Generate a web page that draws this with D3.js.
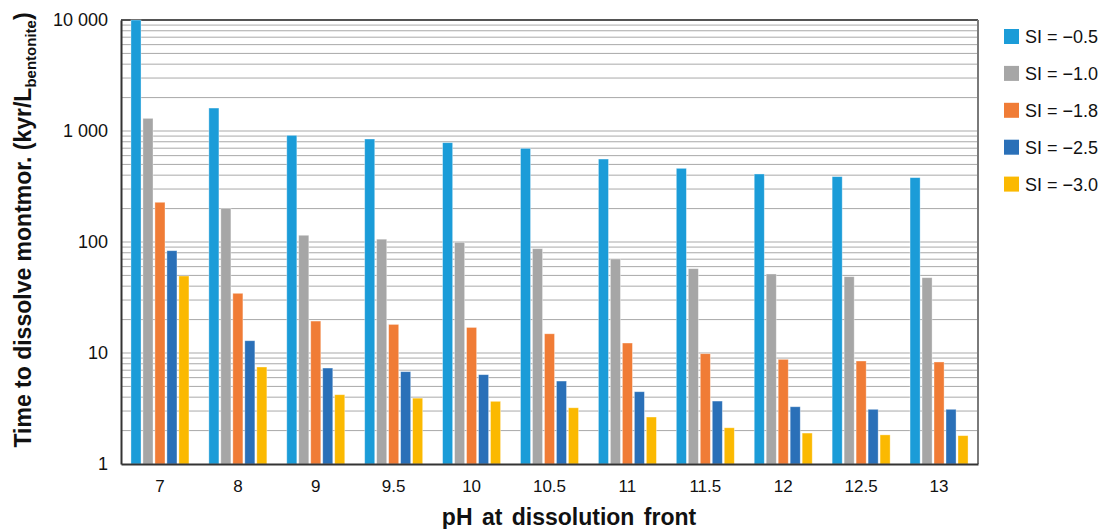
<!DOCTYPE html>
<html>
<head>
<meta charset="utf-8">
<script src="https://cdn.jsdelivr.net/npm/d3@7"></script>
<style>
  html, body { margin: 0; padding: 0; background: #fff; }
  svg { display: block; font-family: "Liberation Sans", Arial, Helvetica, sans-serif; }
</style>
</head>
<body>
<svg id="chart" width="1102" height="529"></svg>
<script>
// pH values at the dissolution front (x categories)
const categories = ["7", "8", "9", "9.5", "10", "10.5", "11", "11.5", "12", "12.5", "13"];

// Saturation index series
const seriesNames = ["SI = −0.5", "SI = −1.0", "SI = −1.8", "SI = −2.5", "SI = −3.0"];
const seriesColors = ["#1b9cd8", "#a6a6a6", "#f07c36", "#2a70b8", "#fbb901"];

// Time to dissolve montmorillonite (kyr per litre of bentonite), one array per series
const siMinus05 = [10000, 1610, 914, 847, 785, 698, 559, 461, 410, 388, 380];
const siMinus10 = [1300, 201, 115, 106, 99.4, 87.0, 70.3, 57.5, 51.5, 48.7, 47.7];
const siMinus18 = [228, 34.5, 19.4, 18.1, 17.0, 14.9, 12.3, 9.86, 8.77, 8.47, 8.30];
const siMinus25 = [83.5, 12.9, 7.32, 6.79, 6.38, 5.59, 4.48, 3.69, 3.28, 3.11, 3.11];
const siMinus30 = [49.4, 7.48, 4.21, 3.92, 3.67, 3.21, 2.65, 2.12, 1.90, 1.83, 1.80];
const seriesValues = [siMinus05, siMinus10, siMinus18, siMinus25, siMinus30];

// Y tick values and labels
const yTickValues = [1, 10, 100, 1000, 10000];
const yTickLabels = ["1", "10", "100", "1 000", "10 000"];

const svg = d3.select("#chart");
const plot = { left: 121, right: 978, top: 20, bottom: 464 };

const x = d3.scaleBand().domain(categories).range([plot.left, plot.right]).padding(0);
const bw = x.bandwidth();
const xs = d3.scaleBand().domain(seriesNames).range([bw / 2 - 29, bw / 2 + 29]).paddingInner(0.16);
const y = d3.scaleLog().domain([1, 10000]).range([plot.bottom, plot.top]);

// Minor and major horizontal gridlines (2..10 within each decade)
const gridValues = [];
for (let dec = 1; dec < 10000; dec *= 10) {
  for (let m = 2; m <= 10; m++) gridValues.push(dec * m);
}
svg.append("g").attr("class", "grid")
  .selectAll("line").data(gridValues.filter(v => v < 10000)).join("line")
  .attr("x1", plot.left).attr("x2", plot.right)
  .attr("y1", d => y(d)).attr("y2", d => y(d))
  .attr("stroke", "#a9a9a9").attr("stroke-width", 1);

// Frame: top and right borders
svg.append("line").attr("x1", plot.left).attr("x2", plot.right)
  .attr("y1", plot.top).attr("y2", plot.top).attr("stroke", "#1a1a1a").attr("stroke-width", 1.3);
svg.append("line").attr("x1", plot.right).attr("x2", plot.right)
  .attr("y1", plot.top).attr("y2", plot.bottom).attr("stroke", "#7a7a7a").attr("stroke-width", 2);

// Bars
const rows = [];
categories.forEach((c, i) => {
  seriesNames.forEach((s, j) => rows.push({ cat: c, series: s, value: seriesValues[j][i], color: seriesColors[j] }));
});
svg.append("g").attr("class", "bars")
  .selectAll("rect").data(rows).join("rect")
  .attr("x", d => x(d.cat) + xs(d.series))
  .attr("width", xs.bandwidth())
  .attr("y", d => y(d.value))
  .attr("height", d => plot.bottom - y(d.value))
  .attr("fill", d => d.color)
  .attr("stroke", "#ffffff").attr("stroke-opacity", 0.45).attr("stroke-width", 0.8);

// Y axis
const yAxis = d3.axisLeft(y).tickValues(yTickValues)
  .tickFormat((d, i) => yTickLabels[i]).tickSize(0).tickPadding(13);
const gy = svg.append("g").attr("transform", `translate(${plot.left},0)`).call(yAxis);
gy.select(".domain").attr("stroke", "#333").attr("stroke-width", 2);
gy.selectAll("text").attr("font-size", 18).attr("fill", "#111")
  .attr("font-family", "'Liberation Sans', Arial, sans-serif");

// X axis
const xAxis = d3.axisBottom(x).tickSize(0).tickPadding(16);
const gx = svg.append("g").attr("transform", `translate(0,${plot.bottom})`).call(xAxis);
gx.select(".domain").attr("stroke", "#333").attr("stroke-width", 2);
gx.selectAll("text").attr("font-size", 17).attr("fill", "#111")
  .attr("font-family", "'Liberation Sans', Arial, sans-serif");

// Axis titles
svg.append("text")
  .attr("x", 569).attr("y", 525)
  .attr("text-anchor", "middle")
  .attr("font-size", 23).attr("font-weight", "bold").attr("fill", "#111")
  .attr("word-spacing", 3)
  .text("pH at dissolution front");

const yTitle = svg.append("text")
  .attr("transform", "translate(31,230) rotate(-90)")
  .attr("text-anchor", "middle")
  .attr("font-size", 23).attr("font-weight", "bold").attr("fill", "#111");
yTitle.append("tspan").text("Time to dissolve montmor. (kyr/L");
yTitle.append("tspan").attr("font-size", 15).attr("dy", 5).text("bentonite");
yTitle.append("tspan").attr("dy", -5).text(")");

// Legend
const legend = svg.append("g").attr("class", "legend")
  .selectAll("g").data(seriesNames).join("g")
  .attr("transform", (d, i) => `translate(1004,${29 + i * 36.9})`);
legend.append("rect").attr("width", 15).attr("height", 15)
  .attr("fill", (d, i) => seriesColors[i]);
legend.append("text").attr("x", 21).attr("y", 14)
  .attr("font-size", 18).attr("fill", "#111").text(d => d);
</script>
</body>
</html>
